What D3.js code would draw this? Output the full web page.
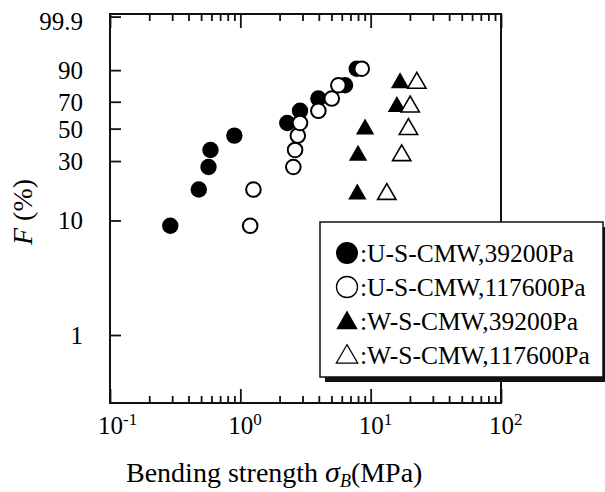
<!DOCTYPE html>
<html>
<head>
<meta charset="utf-8">
<script src="https://cdn.jsdelivr.net/npm/d3@7"></script>
<style>
  html, body { margin: 0; padding: 0; background: #fff; }
  svg { display: block; }
  text { font-family: "Liberation Serif", "DejaVu Serif", serif; fill: #000; }
</style>
</head>
<body>
<svg id="chart" width="605" height="492"></svg>
<script>
// ── Data ────────────────────────────────────────────────
// cumulative failure probability F (%) for the 10-specimen and 5-specimen sets
const rankF10 = [9.1, 18.2, 27.3, 36.4, 45.5, 54.5, 63.6, 72.7, 81.8, 90.9];
const rankF5  = [16.7, 33.3, 50.0, 66.7, 83.3];

// bending strength (MPa)
const usLow  = [0.29, 0.48, 0.57, 0.59, 0.90, 2.29, 2.87, 3.97, 6.36, 7.82];   // U-S-CMW, 39200Pa
const usHigh = [1.19, 1.26, 2.55, 2.63, 2.76, 2.87, 3.97, 5.03, 5.65, 8.54];   // U-S-CMW, 117600Pa
const wsLow  = [7.9, 8.0, 9.06, 15.9, 16.8];                                   // W-S-CMW, 39200Pa
const wsHigh = [13.3, 17.3, 19.5, 20.1, 22.6];                                 // W-S-CMW, 117600Pa

const yTickValues = [1, 10, 30, 50, 70, 90, 99.9];
const yTickLabels = ['1', '10', '30', '50', '70', '90', '99.9'];
const xDecades    = [-1, 0, 1, 2];

const legendLabels = [
  'U-S-CMW,39200Pa',
  'U-S-CMW,117600Pa',
  'W-S-CMW,39200Pa',
  'W-S-CMW,117600Pa',
];

// ── Scales ─────────────────────────────────────────────
const svg = d3.select('#chart');
const L = 110, R = 501, T = 14, B = 403;

const x = d3.scaleLog().domain([0.1, 100]).range([L, R]);
// Weibull probability paper: ln(-ln(1-F))
const weib = F => Math.log(-Math.log(1 - F / 100));
const yLin = d3.scaleLinear().domain([-5.985, 1.996]).range([B, T]);
const y = F => yLin(weib(F));

// minor + major ticks for the log axis
const xTicks = [];
for (let e = -1; e < 2; e++) for (let m = 1; m < 10; m++) xTicks.push(m * Math.pow(10, e));
xTicks.push(100);
const isMajor = v => Math.abs(Math.log10(v) - Math.round(Math.log10(v))) < 1e-9;

// ── Axes (ticks point inward) ──────────────────────────
const gx = svg.append('g').attr('transform', `translate(0,${B})`)
  .call(d3.axisBottom(x).tickValues(xTicks).tickSize(0).tickFormat(''));
gx.selectAll('.tick line').attr('y2', d => isMajor(d) ? -14 : -7);

const gxTop = svg.append('g').attr('transform', `translate(0,${T})`)
  .call(d3.axisTop(x).tickValues(xTicks).tickSize(0).tickFormat(''));
gxTop.selectAll('.tick line').attr('y2', d => isMajor(d) ? 14 : 7);

const gy = svg.append('g').attr('transform', `translate(${L},0)`);
gy.selectAll('line').data(yTickValues).join('line')
  .attr('x1', 0).attr('x2', 11)
  .attr('y1', d => y(d)).attr('y2', d => y(d));

svg.selectAll('g .domain').remove();
svg.selectAll('g line').attr('stroke', '#111').attr('stroke-width', 1.8);

// frame
svg.append('rect')
  .attr('x', L).attr('y', T).attr('width', R - L).attr('height', B - T)
  .attr('fill', 'none').attr('stroke', '#111').attr('stroke-width', 2);

// y tick labels
svg.append('g').selectAll('text').data(yTickValues).join('text')
  .attr('x', 83).attr('y', (d, i) => y(d) + (d === 99.9 ? 4 : 0))
  .attr('text-anchor', 'end').attr('dominant-baseline', 'central')
  .attr('font-size', 25)
  .text((d, i) => yTickLabels[i]);

// x tick labels 10^n
const xl = svg.append('g').selectAll('text').data(xDecades).join('text')
  .attr('x', d => x(Math.pow(10, d)) - 12).attr('y', 434)
  .attr('font-size', 25);
xl.append('tspan').text('10');
xl.append('tspan').attr('dy', -9).attr('font-size', 17).text(d => String(d));

// axis titles
const xt = svg.append('text').attr('x', 126).attr('y', 482).attr('font-size', 28);
xt.append('tspan').text('Bending strength ');
xt.append('tspan').attr('font-style', 'italic').attr('font-size', 30).text('σ');
xt.append('tspan').attr('font-style', 'italic').attr('font-size', 18).attr('dy', 5).text('B');
xt.append('tspan').attr('dy', -5).text('(MPa)');

const yt = svg.append('text')
  .attr('transform', 'translate(32,212) rotate(-90)')
  .attr('text-anchor', 'middle').attr('font-size', 28);
yt.append('tspan').attr('font-style', 'italic').text('F');
yt.append('tspan').text(' (%)');

// ── Marks ──────────────────────────────────────────────
const tri = d3.symbol().type(d3.symbolTriangle).size(145);
const triL = d3.symbol().type(d3.symbolTriangle).size(200);
const pts = (vals, ranks) => vals.map((v, i) => ({ v, F: ranks[i] }));

const marks = svg.append('g');
marks.selectAll('.ul').data(pts(usLow, rankF10)).join('circle')
  .attr('cx', d => x(d.v)).attr('cy', d => y(d.F)).attr('r', 8.2)
  .attr('fill', '#000');
marks.selectAll('.uh').data(pts(usHigh, rankF10)).join('circle')
  .attr('class', 'uh')
  .attr('cx', d => x(d.v)).attr('cy', d => y(d.F)).attr('r', 7.3)
  .attr('fill', '#fff').attr('stroke', '#000').attr('stroke-width', 2);
marks.selectAll('.wl').data(pts(wsLow, rankF5)).join('path')
  .attr('class', 'wl')
  .attr('d', tri).attr('transform', d => `translate(${x(d.v)},${y(d.F)})`)
  .attr('fill', '#000');
marks.selectAll('.wh').data(pts(wsHigh, rankF5)).join('path')
  .attr('class', 'wh')
  .attr('d', tri).attr('transform', d => `translate(${x(d.v)},${y(d.F)})`)
  .attr('fill', '#fff').attr('stroke', '#000').attr('stroke-width', 1.6);

// ── Legend ─────────────────────────────────────────────
const lg = svg.append('g').attr('transform', 'translate(320,222)');
lg.append('rect').attr('x', 5).attr('y', 5).attr('width', 283).attr('height', 155).attr('fill', '#111');
lg.append('rect').attr('x', 0).attr('y', 0).attr('width', 283).attr('height', 155)
  .attr('fill', '#fff').attr('stroke', '#111').attr('stroke-width', 1.5);

const rows = lg.selectAll('.row').data(legendLabels).join('g')
  .attr('transform', (d, i) => `translate(0,${31 + i * 34})`);
rows.each(function (d, i) {
  const g = d3.select(this);
  if (i === 0) g.append('circle').attr('cx', 27).attr('r', 11).attr('fill', '#000');
  if (i === 1) g.append('circle').attr('cx', 27).attr('r', 10.5).attr('fill', '#fff').attr('stroke', '#000').attr('stroke-width', 1.3);
  if (i === 2) g.append('path').attr('d', triL).attr('transform', 'translate(27,2)').attr('fill', '#000');
  if (i === 3) g.append('path').attr('d', triL).attr('transform', 'translate(27,2)').attr('fill', '#fff').attr('stroke', '#000').attr('stroke-width', 1.2);
});
rows.append('text').attr('x', 40).attr('dominant-baseline', 'central')
  .attr('font-size', 25.5).text(d => ':' + d);
</script>
</body>
</html>
